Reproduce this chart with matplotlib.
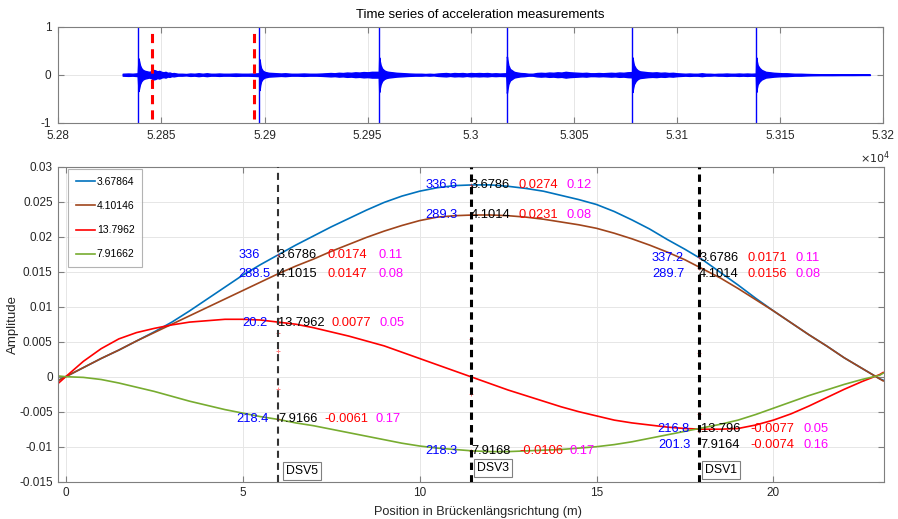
import numpy as np
import matplotlib
matplotlib.use("Agg")
import matplotlib.pyplot as plt

plt.rcParams['font.family'] = ['Liberation Sans', 'DejaVu Sans']
plt.rcParams['axes.unicode_minus'] = False

# ---------------- data ----------------
# top: acceleration time series (time, envelope amplitude)
spike_times = [52838.8, 52897.5, 52955.5, 53017.4, 53078.3, 53138.3]
marker_times = [52845.3, 52895.0]
env_t = [52831.2, 52834, 52836, 52838.5, 52838.9, 52839.2, 52839.6, 52840.2, 52841, 52842, 52843, 52844,
         52845, 52846, 52847, 52848, 52849, 52850, 52851, 52852, 52853, 52854, 52855, 52856, 52858, 52860,
         52862, 52864, 52866, 52868, 52870, 52872, 52874, 52876, 52878, 52880, 52883, 52886, 52889, 52892,
         52895, 52897.4, 52897.6, 52897.9, 52898.3, 52899, 52900, 52901, 52902, 52904, 52906, 52908, 52910,
         52913, 52916, 52919, 52922, 52925, 52928, 52930, 52932, 52934, 52936, 52938, 52940, 52942, 52944,
         52946, 52948, 52950, 52952, 52955.4, 52955.6, 52955.9, 52956.3, 52957, 52958, 52959, 52960, 52962,
         52964, 52966, 52968, 52970, 52973, 52976, 52978, 52980, 52982, 52984, 52986, 52988, 52990, 52992,
         52994, 52996, 52998, 53000, 53002, 53004, 53006, 53008, 53010, 53012, 53014, 53017.2, 53017.5,
         53017.8, 53018.2, 53019, 53020, 53021, 53022, 53024, 53026, 53028, 53030, 53032, 53034, 53036,
         53038, 53040, 53042, 53044, 53046, 53048, 53050, 53052, 53054, 53056, 53058, 53060, 53062, 53064,
         53066, 53068, 53070, 53072, 53074, 53076, 53078.2, 53078.4, 53078.7, 53079.1, 53080, 53081, 53082,
         53084, 53086, 53088, 53090, 53092, 53094, 53096, 53098, 53100, 53102, 53104, 53106, 53108, 53110,
         53112, 53114, 53116, 53118, 53120, 53122, 53124, 53126, 53128, 53130, 53132, 53134, 53136, 53138.2,
         53138.4, 53138.7, 53139.1, 53140, 53141, 53142, 53143, 53145, 53147, 53149, 53151, 53153, 53155,
         53157, 53160, 53163, 53166, 53170, 53175, 53180, 53185, 53190, 53193.5]
env_a = [0.02, 0.025, 0.02, 0.03, 0.34, 0.28, 0.2, 0.14, 0.1, 0.08, 0.07, 0.06,
         0.07, 0.1, 0.09, 0.07, 0.08, 0.06, 0.05, 0.06, 0.04, 0.045, 0.03, 0.035, 0.02, 0.02,
         0.015, 0.025, 0.02, 0.03, 0.02, 0.03, 0.02, 0.02, 0.025, 0.02, 0.02, 0.025, 0.02, 0.02,
         0.025, 0.03, 0.32, 0.22, 0.14, 0.09, 0.06, 0.05, 0.04, 0.035, 0.03, 0.025, 0.03,
         0.02, 0.02, 0.025, 0.02, 0.02, 0.025, 0.03, 0.035, 0.03, 0.04, 0.035, 0.045, 0.04, 0.05,
         0.045, 0.055, 0.05, 0.06, 0.06, 0.36, 0.28, 0.2, 0.13, 0.09, 0.07, 0.06, 0.05,
         0.04, 0.035, 0.03, 0.025, 0.02, 0.02, 0.015, 0.02, 0.015, 0.025, 0.03, 0.035, 0.025, 0.035,
         0.03, 0.035, 0.025, 0.035, 0.03, 0.035, 0.03, 0.035, 0.025, 0.03, 0.025, 0.03, 0.38,
         0.3, 0.2, 0.12, 0.09, 0.06, 0.05, 0.035, 0.03, 0.02, 0.02, 0.035, 0.04, 0.035,
         0.045, 0.04, 0.05, 0.045, 0.06, 0.05, 0.045, 0.04, 0.035, 0.04, 0.03, 0.03, 0.035, 0.03,
         0.035, 0.04, 0.035, 0.045, 0.04, 0.05, 0.055, 0.36, 0.28, 0.2, 0.13, 0.09, 0.07,
         0.06, 0.05, 0.045, 0.05, 0.04, 0.045, 0.035, 0.04, 0.03, 0.025, 0.02, 0.025, 0.02, 0.02,
         0.03, 0.02, 0.02, 0.015, 0.02, 0.02, 0.025, 0.02, 0.02, 0.025, 0.02, 0.025, 0.02, 0.025,
         0.36, 0.28, 0.2, 0.14, 0.1, 0.08, 0.06, 0.05, 0.04, 0.035, 0.03, 0.03, 0.025,
         0.02, 0.02, 0.015, 0.012, 0.01, 0.01, 0.008, 0.008, 0.006, 0.006]
top_xticks = [52800, 52850, 52900, 52950, 53000, 53050, 53100, 53150, 53200]
top_xticklabels = ['5.28', '5.285', '5.29', '5.295', '5.3', '5.305', '5.31', '5.315', '5.32']

# bottom: mode shapes (position in m, amplitude)
pos = [-0.2, 0, 0.5, 1, 1.5, 2, 2.5, 3, 3.5, 4, 4.5, 5, 5.5, 6, 6.5, 7, 7.5, 8, 8.5, 9, 9.5, 10,
       10.5, 11, 11.5, 12, 12.5, 13, 13.5, 14, 14.5, 15, 15.5, 16, 16.5, 17, 17.5, 18, 18.5, 19,
       19.5, 20, 20.5, 21, 21.5, 22, 22.5, 23, 23.1]
mode_blue = [-0.0005, 0, 0.0013, 0.0026, 0.0038, 0.0051, 0.0064, 0.0078, 0.0094, 0.0111, 0.0128,
             0.0145, 0.0160, 0.0174, 0.0188, 0.0201, 0.0214, 0.0226, 0.0238, 0.0249, 0.0258, 0.0265,
             0.0270, 0.0273, 0.0274, 0.0274, 0.0272, 0.0269, 0.0265, 0.0259, 0.0253, 0.0246, 0.0236,
             0.0224, 0.0211, 0.0196, 0.0182, 0.0167, 0.0149, 0.0131, 0.0112, 0.0094, 0.0077, 0.0060,
             0.0044, 0.0027, 0.0012, -0.0003, -0.0005]
mode_brown = [-0.0005, 0, 0.0013, 0.0026, 0.0038, 0.0051, 0.0063, 0.0075, 0.0087, 0.0099, 0.0111,
              0.0123, 0.0135, 0.0147, 0.0158, 0.0168, 0.0179, 0.0189, 0.0199, 0.0208, 0.0216, 0.0223,
              0.0228, 0.0230, 0.0231, 0.0231, 0.0230, 0.0228, 0.0225, 0.0221, 0.0217, 0.0212, 0.0205,
              0.0197, 0.0188, 0.0178, 0.0167, 0.0154, 0.0141, 0.0126, 0.0110, 0.0094, 0.0077, 0.0060,
              0.0044, 0.0027, 0.0012, -0.0003, -0.0006]
mode_red = [-0.0009, 0, 0.0022, 0.0040, 0.0054, 0.0063, 0.0069, 0.0074, 0.0078, 0.0080, 0.0082,
            0.0082, 0.0081, 0.0078, 0.0075, 0.0070, 0.0064, 0.0058, 0.0051, 0.0044, 0.0035, 0.0026,
            0.0017, 0.0008, -0.0001, -0.0010, -0.0019, -0.0027, -0.0035, -0.0043, -0.0050, -0.0056,
            -0.0062, -0.0066, -0.0069, -0.0072, -0.0074, -0.0075, -0.0075, -0.0074, -0.0069, -0.0062,
            -0.0053, -0.0042, -0.0030, -0.0018, -0.0007, 0.0003, 0.0006]
mode_green = [0.0001, 0, -0.0001, -0.0004, -0.0009, -0.0015, -0.0021, -0.0028, -0.0035, -0.0041,
              -0.0047, -0.0052, -0.0057, -0.0061, -0.0066, -0.0070, -0.0075, -0.0080, -0.0085, -0.0090,
              -0.0095, -0.0099, -0.0102, -0.0104, -0.0106, -0.0107, -0.0107, -0.0106, -0.0105, -0.0104,
              -0.0102, -0.0100, -0.0097, -0.0093, -0.0088, -0.0083, -0.0078, -0.0073, -0.0068, -0.0062,
              -0.0054, -0.0045, -0.0036, -0.0027, -0.0019, -0.0011, -0.0004, 0.0002, 0.0005]
legend_labels = ['3.67864', '4.10146', '13.7962', '7.91662']

sensor_names = ['DSV5', 'DSV3', 'DSV1']
sensor_pos = [6.0, 11.45, 17.9]

# annotation values per sensor: (blue value, frequency, amplitude, damping)
ann_dsv5 = [('336', '3.6786', '0.0174', '0.11'),
            ('288.5', '4.1015', '0.0147', '0.08'),
            ('20.2', '13.7962', '0.0077', '0.05'),
            ('218.4', '7.9166', '-0.0061', '0.17')]
ann_dsv3 = [('336.6', '3.6786', '0.0274', '0.12'),
            ('289.3', '4.1014', '0.0231', '0.08'),
            ('218.3', '7.9168', '-0.0106', '0.17')]
ann_dsv1 = [('337.2', '3.6786', '0.0171', '0.11'),
            ('289.7', '4.1014', '0.0156', '0.08'),
            ('216.8', '13.796', '-0.0077', '0.05'),
            ('201.3', '7.9164', '-0.0074', '0.16')]
# measured points (small red markers)
pt_x = [6.0, 6.0, 6.0, 6.0, 6.0, 6.0, 6.0, 11.45, 11.45, 11.45, 11.45, 11.45,
        17.9, 17.9, 17.9, 17.9, 17.9, 17.9]
pt_y = [0.0174, 0.0147, 0.0077, 0.0062, 0.0037, -0.0018, -0.0061, 0.0274, 0.0231, 0.0054, -0.0024, -0.0106,
        0.0171, 0.0156, 0.0034, -0.0053, -0.0077, -0.0074]

# ---------------- layout ----------------
W, H = 898, 519
fig = plt.figure(figsize=(W / 100, H / 100), dpi=100)
gray = '#7f7f7f'
txtc = '#262626'
gridc = '#e6e6e6'

def style(ax):
    for s in ax.spines.values():
        s.set_color(gray)
        s.set_linewidth(0.8)
    ax.tick_params(direction='in', top=True, right=True, color=gray, labelcolor=txtc,
                   labelsize=8.5, length=4, width=0.8)
    ax.grid(True, color=gridc, linewidth=0.7)
    ax.set_axisbelow(True)

# top axes
ax1 = fig.add_axes([58.3 / W, 1 - 122.7 / H, 825 / W, 96 / H])
style(ax1)
ax1.tick_params(pad=5)
env_a_arr = np.array(env_a)
ax1.fill_between(env_t, -env_a_arr, env_a_arr, color='#0000ff', linewidth=1.0, edgecolor='#0000ff')
for t in spike_times:
    ax1.plot([t, t], [-1, 1], color='#0000ff', linewidth=1.0)
for t in marker_times:
    ax1.axvline(t, ymin=0.04, ymax=0.96, color='#ff0000', linewidth=2.2, linestyle=(0, (3.0, 2.0)))
ax1.set_xlim(52800, 53200)
ax1.set_ylim(-1, 1)
ax1.set_xticks(top_xticks)
ax1.set_xticklabels(top_xticklabels)
ax1.set_yticks([-1, 0, 1])
ax1.set_yticklabels(['-1', '0', '1'])
ax1.set_title('Time series of acceleration measurements', fontsize=9.5, color='#000000', pad=6, x=0.512)
fig.text(875 / W, 1 - 158 / H, r'$\times10^4$', fontsize=8, color=txtc, ha='center', va='center')

# bottom axes
ax2 = fig.add_axes([58.3 / W, 1 - 481.7 / H, 825.2 / W, 315 / H])
style(ax2)
ax2.tick_params(pad=4)
colors = ['#0072bd', '#a0451c', '#ff0000', '#77ac30']
for ys, c, lab in zip([mode_blue, mode_brown, mode_red, mode_green], colors, legend_labels):
    ax2.plot(pos, ys, color=c, linewidth=1.2, label=lab)

ax2.plot(pt_x, pt_y, linestyle='none', marker='+', markersize=3, color='#ff0000', alpha=0.5,
         markeredgewidth=0.7)

dash_style = [('#333333', 1.5, (0, (3.4, 2.4))), ('#000000', 2.2, (0, (2.4, 1.7))),
              ('#000000', 2.2, (0, (2.4, 1.7)))]
for xp, (c, lw, ls) in zip(sensor_pos, dash_style):
    ax2.axvline(xp, color=c, linewidth=lw, linestyle=ls, zorder=3)

ax2.set_xlim(-0.21, 23.11)
ax2.set_ylim(-0.015, 0.03)
ax2.set_xticks([0, 5, 10, 15, 20])
ax2.set_xticklabels(['0', '5', '10', '15', '20'])
yt = [-0.015, -0.01, -0.005, 0, 0.005, 0.01, 0.015, 0.02, 0.025, 0.03]
ax2.set_yticks(yt)
ax2.set_yticklabels(['-0.015', '-0.01', '-0.005', '0', '0.005', '0.01', '0.015', '0.02', '0.025', '0.03'])
ax2.set_xlabel('Position in Brückenlängsrichtung (m)', fontsize=9.15, color=txtc, labelpad=5, x=0.5087)
ax2.set_ylabel('Amplitude', fontsize=9.5, color=txtc, labelpad=0)

leg = ax2.legend(loc='upper left', bbox_to_anchor=(0.012, 0.992), borderaxespad=0, fontsize=7.5,
                 frameon=True, fancybox=False, edgecolor='#a0a0a0', handlelength=1.8,
                 handletextpad=0.2, labelspacing=1.35, borderpad=0.75)
leg.get_frame().set_linewidth(0.8)

# annotation layout: (rows, text y positions, pixel offsets blue-end, black, red, magenta)
fs = 9.3
layout = [
    (ann_dsv5, [0.0174, 0.0147, 0.0077, -0.0061],
     [-17.7, -7.7, -10.7, -9.7], [0, 0, 0, 0], [49, 49, 53, 46.3], [100.3, 100.3, 101.6, 97.3]),
    (ann_dsv3, [0.0274, 0.0231, -0.0106],
     [-13, -13, -13], [0, 0, 0.5], [48, 48, 48.3], [95.7, 95.7, 99]),
    (ann_dsv1, [0.0170, 0.0147, -0.0075, -0.0098],
     [-15, -15, -10, -8.6], [0, 0, 1.4, 1.4], [48.4, 48.4, 51.4, 51.4], [96.7, 96.7, 104.7, 104.7]),
]
for xp, (rows, ys, ob, ok, orr, om) in zip(sensor_pos, layout):
    for r, y, a, b, c, d in zip(rows, ys, ob, ok, orr, om):
        kw = dict(xy=(xp, y), textcoords='offset pixels', va='center', fontsize=fs, zorder=5)
        ax2.annotate(r[0], xytext=(a, 0), ha='right', color='#0000ff', **kw)
        ax2.annotate(r[1], xytext=(b, 0), ha='left', color='#000000', **kw)
        ax2.annotate(r[2], xytext=(c, 0), ha='left', color='#ff0000', **kw)
        ax2.annotate(r[3], xytext=(d, 0), ha='left', color='#ff00ff', **kw)

box_off = [5, 3.3, 3]
box_y = [-0.01347, -0.0131, -0.0133]
for name, xp, dx, by in zip(sensor_names, sensor_pos, box_off, box_y):
    ax2.annotate(name, xy=(xp, by), xytext=(dx + 3, 0), textcoords='offset pixels', ha='left',
                 va='center', fontsize=8.8, color='#000000', zorder=6,
                 bbox=dict(boxstyle='square,pad=0.25', facecolor='white', edgecolor='#808080',
                           linewidth=0.8))

fig.savefig('out.png', dpi=100)
